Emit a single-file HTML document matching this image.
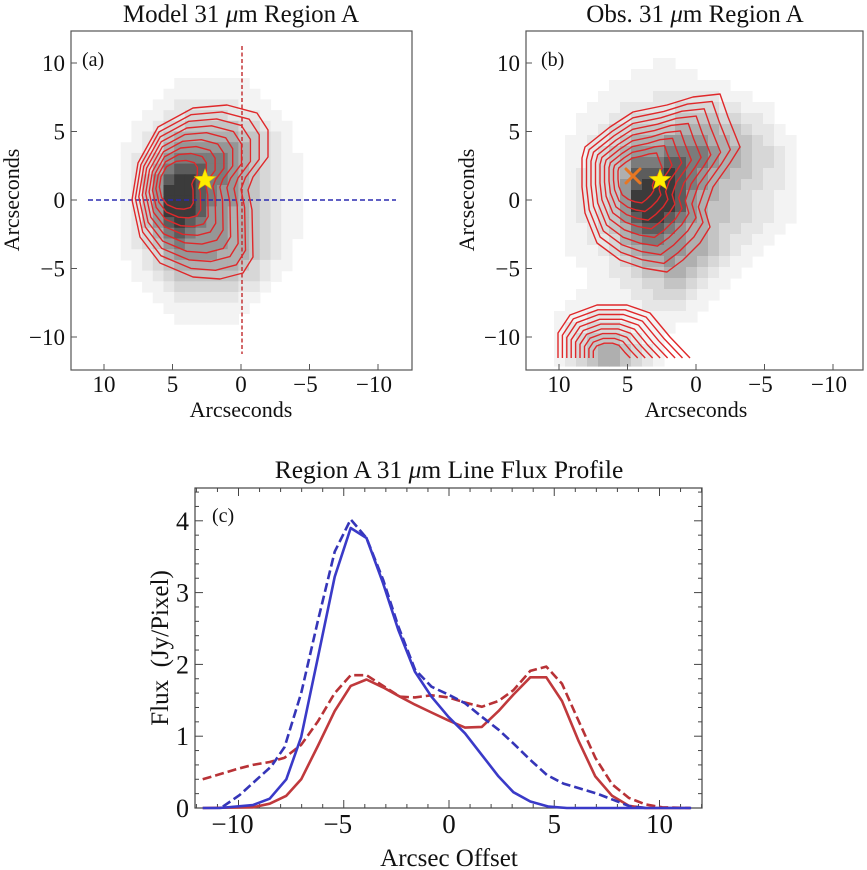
<!DOCTYPE html>
<html><head><meta charset="utf-8"><style>
html,body{margin:0;padding:0;background:#fff;}
svg{display:block;font-family:"Liberation Serif",serif;}
</style></head><body>
<svg id="fig" width="867" height="870" viewBox="0 0 867 870" xmlns="http://www.w3.org/2000/svg">
<g id="pa"></g>
<g id="pb"></g>
<g id="pc"></g>
</svg>
<script>
// ---------- Panel (c) data ----------
const blueSolidX = [-11.7,-10.9,-9.32,-8.52,-7.73,-7.02,-6.22,-5.43,-4.67,-3.92,-3.13,-2.41,-1.62,-0.83,-0.03,0.76,1.56,2.35,3.06,3.86,4.73,5.6,11.5];
const blueSolidY = [0,0,0.04,0.13,0.40,0.99,2.11,3.22,3.90,3.76,3.13,2.48,1.90,1.55,1.27,1.04,0.74,0.44,0.22,0.09,0.02,0,0];
const blueDashX = [-10.74,-9.95,-9.16,-8.44,-7.81,-7.02,-6.22,-5.43,-4.67,-3.92,-3.13,-2.41,-1.62,-0.83,-0.03,0.76,1.56,2.35,3.06,3.86,4.65,5.44,6.24,7.03,7.83,8.62,9.41];
const blueDashY = [0.02,0.18,0.39,0.58,0.85,1.60,2.62,3.57,4.02,3.76,3.18,2.53,1.93,1.69,1.58,1.46,1.27,1.09,0.90,0.67,0.46,0.34,0.27,0.20,0.11,0.02,0];
const redSolidX = [-11.7,-9.32,-8.52,-7.73,-7.02,-6.22,-5.43,-4.67,-3.92,-3.13,-2.33,-1.62,-0.83,-0.03,0.76,1.56,2.35,3.06,3.86,4.62,5.37,6.16,6.95,7.75,8.54,9.33,11.47];
const redSolidY = [0,0.01,0.06,0.17,0.40,0.87,1.35,1.70,1.79,1.68,1.55,1.44,1.33,1.22,1.12,1.13,1.35,1.58,1.82,1.82,1.49,0.93,0.44,0.17,0.03,0,0];
const redDashX = [-11.7,-10.9,-10.11,-9.32,-8.52,-7.81,-7.02,-6.22,-5.43,-4.67,-3.92,-3.13,-2.33,-1.62,-0.83,-0.03,0.76,1.56,2.35,3.06,3.86,4.62,5.37,6.16,6.95,7.75,8.54,9.33,10.13,11.47];
const redDashY = [0.40,0.47,0.54,0.60,0.64,0.70,0.88,1.21,1.60,1.85,1.85,1.70,1.55,1.54,1.57,1.54,1.47,1.41,1.49,1.64,1.91,1.97,1.73,1.21,0.70,0.33,0.14,0.05,0.01,0];
const cXTicks = [-10,-5,0,5,10];
const cYTicks = [0,1,2,3,4];

// ---------- Map data (darkness 0-9 per cell) ----------
const mapA = [
"0000001111111000000",
"0000011111111100000",
"0000112222221110000",
"0001122333322211000",
"0011233444443321100",
"0012345555554432100",
"0112356666665432100",
"0123467777765432110",
"0123578887765432110",
"0124689987765432110",
"0124699987665432110",
"0124699987665432110",
"0124699986655432110",
"0124689876655432110",
"0123578766655432110",
"0123467666655432100",
"0112356666555432100",
"0012345555554321100",
"0011234444443321000",
"0001123333332210000",
"0000112222221100000",
"0000011111111000000",
"0000001111110000000"];
const mapB = [
"000000000011000000000000",
"000000001111110000000000",
"000000111111111110000000",
"000001111122222211100000",
"000011122222333322111000",
"000111223333444433221000",
"000112334444555544322100",
"001122345556666554432110",
"001123456667777655433210",
"001123457778877655433210",
"001223458889876554432210",
"001223468999876544332210",
"001223469999865543322110",
"001223469999865443322110",
"001223468998765443322110",
"001123457887655433221100",
"001122356776655432211000",
"001112345666655432110000",
"000111234556554321100000",
"000011223445543211000000",
"000011122334432110000000",
"000111112233321100000000",
"001111111222211000000000",
"011122211111110000000000",
"012233321111000000000000",
"012344432110000000000000",
"012345543210000000000000",
"012345543210000000000000"];
const mapTicks = [10,5,0,-5,-10];
const contourLevels = [1,0.91,0.82,0.73,0.64,0.55,0.46,0.37,0.28];

const NS = "http://www.w3.org/2000/svg";
function mk(parent, tag, attrs){ const e=document.createElementNS(NS,tag); for(const k in attrs) e.setAttribute(k,attrs[k]); parent.appendChild(e); return e; }
function txt(parent, s, x, y, size, anchor, extra){ const t=mk(parent,'text',Object.assign({x:x,y:y,'font-size':size,'text-anchor':anchor||'middle',fill:'#111'},extra||{})); t.textContent=s; return t; }

function drawMap(g, cfg){
  const {L,T,R,B,x0px,y0px,s,grid,gx,gy,cell} = cfg;
  const sx = v => x0px - v*s, sy = v => y0px - v*s;
  const cellG = mk(g,'g',{});
  
  
  grid.forEach((row,r)=>{ for(let c=0;c<row.length;c++){ const d=+row[c]; if(!d) continue;
    const v=Math.round(252-d*8-d*d*1.5);
    const rc=mk(cellG,'rect',{x:gx+c*cell,y:gy+r*cell,width:cell+0.6,height:cell+0.6,fill:`rgb(${v},${v},${v})`});
    
    
  }});
  const fr=mk(g,'rect',{x:L,y:T,width:R-L,height:B-T,fill:'none',stroke:'#555','stroke-width':1.2});
  
  
  mapTicks.forEach(v=>{
    mk(g,'line',{x1:sx(v),x2:sx(v),y1:B,y2:B-6,stroke:'#555'});
    const tx=txt(g,(v<0?'\u2212':'')+Math.abs(v),sx(v)-(v<0?4:0),B+22,23);
    
    
    mk(g,'line',{x1:L,x2:L+6,y1:sy(v),y2:sy(v),stroke:'#555'});
    const ty=txt(g,(v<0?'\u2212':'')+Math.abs(v),L-6,sy(v)+8,23,'end');
    
    
  });
  return {sx,sy};
}
function contours(g, pts, c, open){
  const cg=mk(g,'g',{fill:'none',stroke:'#e0282a','stroke-width':1.4});
  
  
  contourLevels.forEach(t=>{
    const d=pts.map((p,i)=>(i?'L':'M')+(c[0]+(p[0]-c[0])*t).toFixed(1)+','+(c[1]+(p[1]-c[1])*t).toFixed(1)).join(' ')+(open?'':' Z');
    const p=mk(cg,'path',{d:d,'stroke-linejoin':'round'});
    
    
  });
}
function star(g,cx,cy,r,name){
  let d='';for(let i=0;i<10;i++){const a=-Math.PI/2+i*Math.PI/5;const rr=i%2?r*0.42:r;d+=(i?'L':'M')+(cx+rr*Math.cos(a)).toFixed(1)+','+(cy+rr*Math.sin(a)).toFixed(1);}
  const s=mk(g,'path',{d:d+'Z',fill:'#ffee00',stroke:'#e8c800','stroke-width':0.6});
  
  
}
function title(g,x,y,size,a,b,name){
  const t=txt(g,'',x,y,size);
  const s1=mk(t,'tspan',{});s1.textContent=a;
  const m=mk(t,'tspan',{'font-style':'italic'});m.textContent='\u03bc';
  const s2=mk(t,'tspan',{});s2.textContent=b;
  
  
}

// ---- Panel a ----
const pa=document.getElementById('pa');
drawMap(pa,{L:71,T:31,R:412,B:370,x0px:241,y0px:200,s:13.7,grid:mapA,gx:110,gy:78,cell:10.7});
title(pa,241,22,25,'Model 31 ','m Region A','panel-a-title');
{const t=txt(pa,'(a)',82,66,20,'start');}
{const t=txt(pa,'Arcseconds',241,417,22);}
{const t=txt(pa,'Arcseconds',0,0,22,'middle',{transform:'translate(19,200) rotate(-90)'});}
{const l=mk(pa,'line',{x1:88,x2:396,y1:200,y2:200,stroke:'#2b2bb0','stroke-width':1.4,'stroke-dasharray':'5,3'});
 const v=mk(pa,'line',{x1:242,x2:242,y1:46,y2:354,stroke:'#c0282a','stroke-width':1.4,'stroke-dasharray':'4,2.5'});}
contours(pa,[[132,200],[138,163],[158,127],[193,108],[227,105],[257,113],[268,130],[268,157],[253,177],[248,190],[252,210],[253,257],[243,273],[220,279],[193,277],[160,263],[140,237]],[170,182],false);
star(pa,205,180,11,'star-marker');

// ---- Panel b ----
const pb=document.getElementById('pb');
drawMap(pb,{L:526,T:31,R:863,B:370,x0px:696,y0px:200,s:13.7,grid:mapB,gx:543,gy:58,cell:11});
title(pb,695,22,25,'Obs. 31 ','m Region A','panel-b-title');
{const t=txt(pb,'(b)',541,66,20,'start');}
{const t=txt(pb,'Arcseconds',696,417,22);}
{const t=txt(pb,'Arcseconds',0,0,22,'middle',{transform:'translate(474,200) rotate(-90)'});}
contours(pb,[[582,158],[585,147],[610,127],[633,112],[667,105],[693,97],[720,94],[728,117],[740,147],[730,163],[713,187],[705,210],[710,227],[700,243],[683,260],[667,272],[643,268],[620,260],[597,243],[585,213],[582,187]],[632,176],false);
contours(pb,[[558,358],[558,333],[570,315],[597,305],[627,305],[650,313],[670,337],[690,358]],[607,358],true);
{const x1=mk(pb,'path',{d:'M626,169 L640,183 M640,169 L626,183',stroke:'#e87722','stroke-width':3,'stroke-linecap':'round'});}
star(pb,660,180,11,'star-marker');

// ---- Panel c ----
const pc=document.getElementById('pc');
const CL=195,CR=702,CT=488,CB=808;
const cx=v=>449+v*21.05, cy=v=>808-v*71.8;
title(pc,449,478,25.5,'Region A 31 ','m Line Flux Profile','panel-c-title');
{const f=mk(pc,'rect',{x:CL,y:CT,width:CR-CL,height:CB-CT,fill:'none',stroke:'#444','stroke-width':1.2});}
for(let v=-12;v<=12;v++){const X=cx(v);if(X<CL||X>CR)continue;const maj=v%5===0;const h=maj?8:4;
  mk(pc,'line',{x1:X,x2:X,y1:CB,y2:CB-h,stroke:'#444'});mk(pc,'line',{x1:X,x2:X,y1:CT,y2:CT+h,stroke:'#444'});}
for(let i=0;i<=22;i++){const v=i*0.2;const Y=cy(v);if(Y<CT)continue;const maj=i%5===0;const h=maj?8:4;
  mk(pc,'line',{x1:CL,x2:CL+h,y1:Y,y2:Y,stroke:'#444'});mk(pc,'line',{x1:CR,x2:CR-h,y1:Y,y2:Y,stroke:'#444'});}
cXTicks.forEach(v=>{const t=txt(pc,(v<0?'\u2212':'')+Math.abs(v),cx(v)-(v<0?6:0),CB+25,27);});
cYTicks.forEach(v=>{const t=txt(pc,String(v),CL-6,cy(v)+9,26,'end');});
{const t=txt(pc,'Arcsec Offset',449,866,25);}
{const t=txt(pc,'Flux\u00a0\u00a0(Jy/Pixel)',0,0,25,'middle',{transform:'translate(168,648) rotate(-90)'});}
{const t=txt(pc,'(c)',212,522,20,'start');}
function series(xs,ys,color,dash,name){
  const d=xs.map((x,i)=>(i?'L':'M')+cx(x).toFixed(1)+','+cy(ys[i]).toFixed(1)).join(' ');
  const p=mk(pc,'path',{d:d,fill:'none',stroke:color,'stroke-width':2.6,'stroke-linejoin':'round'});
  if(dash)p.setAttribute('stroke-dasharray','9,4');
  
  
}
series(redDashX,redDashY,'#b83236',true,'red-dashed-profile');
series(redSolidX,redSolidY,'#c0393c',false,'red-solid-profile');
series(blueDashX,blueDashY,'#3535b8',true,'blue-dashed-profile');
series(blueSolidX,blueSolidY,'#3a3ac8',false,'blue-solid-profile');
</script>
</body></html>
